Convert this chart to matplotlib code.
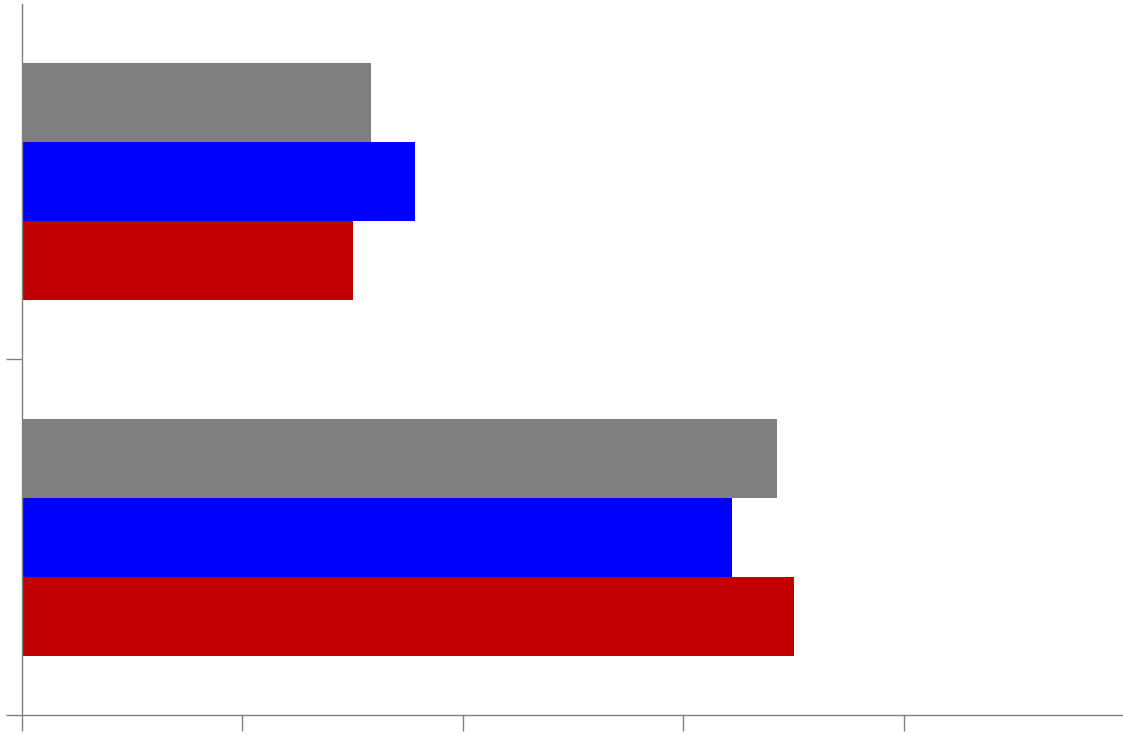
import numpy as np
import matplotlib.pyplot as plt

categories = ["A", "B"]
series_names = ["red", "blue", "gray"]
red_vals = [3.50, 1.50]
blue_vals = [3.22, 1.785]
gray_vals = [3.425, 1.585]
colors = ["#C00000", "#0000FF", "#808080"]

W, H = 1123, 735
fig = plt.figure(figsize=(W / 100, H / 100), dpi=100)
ax = fig.add_axes([22 / W, 20 / H, 1100 / W, 711 / H])

y = np.arange(len(categories)) + 0.5
h = 2 / 9
for i, (vals, c) in enumerate(zip([red_vals, blue_vals, gray_vals], colors)):
    ax.barh(y - h + i * h, vals, height=h, color=c, linewidth=0)

ax.set_xlim(0, 4.99)
ax.set_ylim(0, 2)
ax.set_xticks([0, 1, 2, 3, 4])
ax.set_yticks([0, 1])
ax.set_xticklabels([])
ax.set_yticklabels([])
for s in ["top", "right"]:
    ax.spines[s].set_visible(False)
for s in ["left", "bottom"]:
    ax.spines[s].set_color("#808080")
    ax.spines[s].set_linewidth(1)
ax.tick_params(color="#808080", length=11.5, width=1, direction="out")

fig.savefig("out.png", dpi=100)
